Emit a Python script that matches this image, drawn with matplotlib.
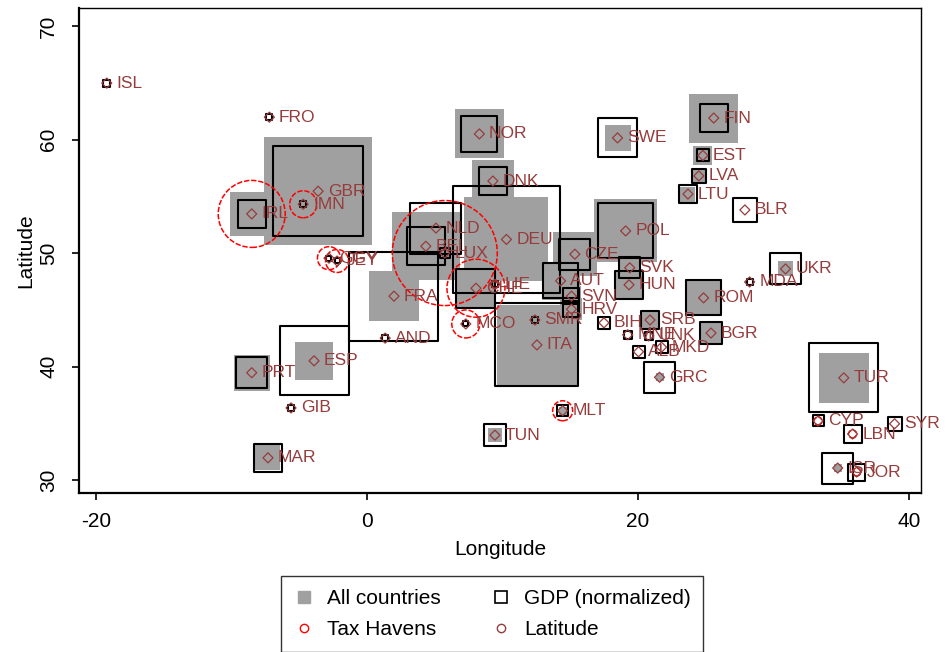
import matplotlib.pyplot as plt
from matplotlib.lines import Line2D

plt.rcParams['font.family'] = ['Liberation Sans', 'DejaVu Sans']
plt.rcParams['axes.unicode_minus'] = False

# -----------------------------
# Country data
# -----------------------------
codes = ["ISL", "FRO", "GBR", "IRL", "IMN", "GGY", "JEY", "FRA", "BEL", "NLD",
         "LUX", "DEU", "DNK", "NOR", "SWE", "FIN", "EST", "LVA", "LTU", "BLR",
         "POL", "CZE", "SVK", "HUN", "AUT", "CHE", "LIE", "MCO", "AND", "SMR",
         "ITA", "ESP", "PRT", "GIB", "MAR", "TUN", "MLT", "SVN", "HRV", "BIH",
         "SRB", "MNE", "UNK", "MKD", "ALB", "GRC", "BGR", "ROM", "MDA", "UKR",
         "TUR", "CYP", "SYR", "LBN", "ISR", "JOR"]

lon = [-19.2, -7.2, -3.6, -8.5, -4.7, -2.8, -2.2, 2.0, 4.35, 5.1,
       5.75, 10.3, 9.3, 8.3, 18.5, 25.6, 24.8, 24.5, 23.7, 27.9,
       19.1, 15.35, 19.4, 19.35, 14.3, 8.05, 9.45, 7.3, 1.35, 12.4,
       12.55, -3.9, -8.5, -5.6, -7.3, 9.45, 14.45, 15.1, 15.1, 17.5,
       20.9, 19.25, 20.8, 21.75, 20.05, 21.6, 25.4, 24.85, 28.25, 30.9,
       35.2, 33.3, 38.95, 35.85, 34.75, 36.15]

lat = [64.98, 61.98, 55.45, 53.45, 54.3, 49.55, 49.3, 46.2, 50.6, 52.2,
       50.0, 51.2, 56.35, 60.5, 60.15, 61.9, 58.6, 56.8, 55.2, 53.8,
       51.95, 49.9, 48.7, 47.2, 47.55, 46.9, 47.25, 43.75, 42.5, 44.1,
       41.9, 40.5, 39.45, 36.35, 31.95, 33.95, 36.1, 46.2, 45.05, 43.85,
       44.1, 42.8, 42.7, 41.7, 41.3, 39.05, 42.95, 46.05, 47.45, 48.6,
       39.0, 35.2, 34.95, 34.05, 31.05, 30.7]

# marker weights (side of square / circle diameter, in chart units)
all_w = [0, 0, 108, 44, 0, 0, 0, 50, 68, 28,
         0, 84, 42, 49, 26, 49, 19, 12, 15, 0,
         63, 44, 19, 27, 38, 38, 0, 0, 0, 0,
         80, 38, 36, 0, 25, 14, 8, 20, 22, 0,
         16, 0, 0, 0, 0, 8, 22, 37, 0, 15,
         50, 0, 0, 0, 8, 0]

gdp_w = [7, 6, 90, 28, 6, 5, 5, 89, 38, 51,
         10, 107, 28, 36, 39, 28, 12, 14, 18, 24,
         55, 31, 21, 28, 35, 39, 6, 5, 6, 6,
         83, 69, 31, 6, 28, 22, 11, 16, 16, 12,
         18, 8, 8, 12, 12, 31, 22, 35, 6, 31,
         69, 11, 14, 18, 31, 17]

haven_w = [0, 0, 0, 67, 27, 23, 23, 0, 0, 0,
           105, 0, 0, 0, 0, 0, 0, 0, 0, 0,
           0, 0, 0, 0, 0, 58, 8, 28, 0, 0,
           0, 0, 0, 0, 0, 0, 20, 0, 0, 0,
           0, 0, 0, 0, 0, 0, 0, 0, 0, 0,
           0, 8, 0, 8, 0, 8]

# -----------------------------
# Plot
# -----------------------------
DPI = 100
fig = plt.figure(figsize=(9.46, 6.52), dpi=DPI)
ax = fig.add_axes([79 / 946, 1 - 493 / 652, (921 - 79) / 946, (493 - 8) / 652])


def sz(w):
    # side length in pixels -> scatter area in points^2
    return [(v * 72 / DPI) ** 2 for v in w]


gray = "#a0a0a0"
lab_col = "#963c3c"

sel = [i for i, v in enumerate(all_w) if v > 0]
ax.scatter([lon[i] for i in sel], [lat[i] for i in sel], s=sz([all_w[i] for i in sel]),
           marker="s", color=gray, linewidths=0, zorder=2)

ax.scatter(lon, lat, s=sz(gdp_w), marker="s", facecolors="none",
           edgecolors="black", linewidths=1.5, zorder=3)

sel = [i for i, v in enumerate(haven_w) if v > 0]
ax.scatter([lon[i] for i in sel], [lat[i] for i in sel], s=sz([haven_w[i] for i in sel]),
           marker="o", facecolors="none", edgecolors="red", linewidths=1.1,
           linestyles=(0, (3.5, 1.2)), zorder=4)

ax.scatter(lon, lat, s=26, marker="D", facecolors="none", edgecolors=lab_col,
           linewidths=0.9, zorder=5)

for c, x, y in zip(codes, lon, lat):
    ax.annotate(c, (x, y), xytext=(7, 0), textcoords="offset points",
                va="center", ha="left", fontsize=12.5, color=lab_col, zorder=6)

ax.set_xlim(-21.25, 40.9)
ax.set_ylim(28.85, 71.6)
ax.set_xticks([-20, 0, 20, 40])
ax.set_yticks([30, 40, 50, 60, 70])
ax.tick_params(direction="out", length=5, width=1.2, labelsize=15)
ax.tick_params(axis="x", pad=9)
ax.tick_params(axis="y", labelrotation=90, pad=10)
for lbl in ax.get_yticklabels():
    lbl.set_va("center")

for side in ["left", "bottom"]:
    ax.spines[side].set_linewidth(1.6)
for side in ["top", "right"]:
    ax.spines[side].set_linewidth(1.0)

ax.set_xlabel("Longitude", fontsize=15, labelpad=6)
ax.set_ylabel("Latitude", fontsize=15, labelpad=3)

handles = [
    Line2D([], [], marker="s", linestyle="none", color=gray, markersize=8),
    Line2D([], [], marker="o", linestyle="none", markerfacecolor="none",
           markeredgecolor="red", markersize=6, markeredgewidth=1.0),
    Line2D([], [], marker="s", linestyle="none", markerfacecolor="none",
           markeredgecolor="black", markersize=8, markeredgewidth=1.2),
    Line2D([], [], marker="o", linestyle="none", markerfacecolor="none",
           markeredgecolor=lab_col, markersize=6, markeredgewidth=1.0),
]
labels = ["All countries", "Tax Havens", "GDP (normalized)", "Latitude"]
leg = fig.legend(handles, labels, ncol=2, loc="upper center",
                 bbox_to_anchor=(492 / 946, 1 - 566 / 652), fontsize=15,
                 frameon=True, fancybox=False, edgecolor="black",
                 handlelength=1.0, handletextpad=0.6, columnspacing=2.4,
                 borderpad=0.6, labelspacing=0.6)
leg.get_frame().set_linewidth(1.0)

fig.savefig("out.png", dpi=DPI)
